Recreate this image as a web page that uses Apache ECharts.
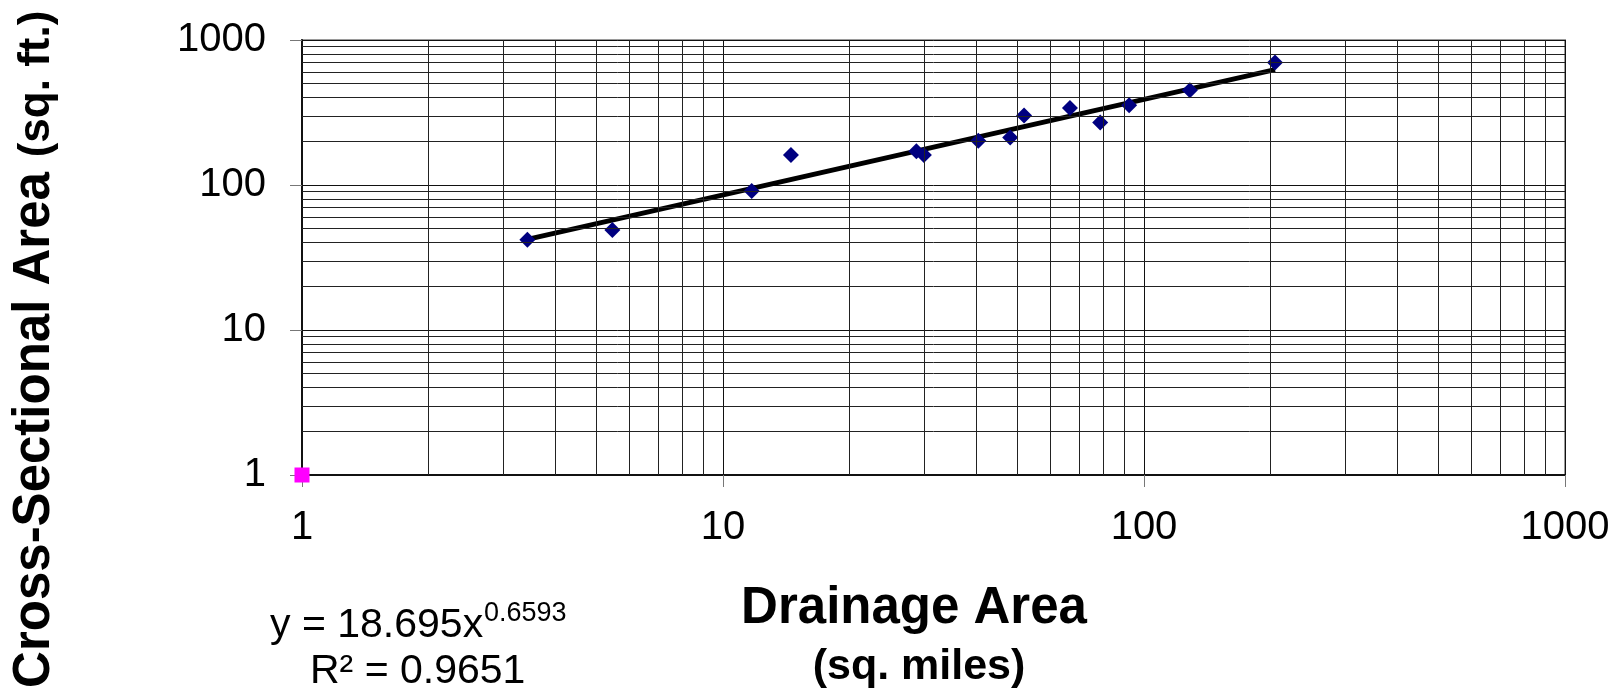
<!DOCTYPE html>
<html>
<head>
<meta charset="utf-8">
<title>Cross-Sectional Area vs Drainage Area</title>
<script src="https://cdn.jsdelivr.net/npm/echarts@6/dist/echarts.min.js"></script>
<style>
  html, body { margin: 0; padding: 0; background: #fff; }
  #chart { width: 1623px; height: 692px; }
</style>
</head>
<body>
<div id="chart"></div>
<script>
// Surveyed reaches: drainage area (sq. miles) and bankfull cross-sectional area (sq. ft.)
const drainageArea = [3.43, 5.46, 11.7, 14.5, 28.8, 30.0, 40.4, 48.1, 51.9, 66.7, 78.7, 92.2, 128.5, 204.7];
const crossSectionArea = [42, 49, 91, 161, 171, 161, 202, 213, 302, 340, 270, 355, 450, 699];

// Anchor point plotted at the axis origin
const originPoint = [1, 1];

// Power-law fit y = a * x^b
const fitCoef = 18.695;
const fitExp = 0.6593;
const fitR2 = 0.9651;

// Log axis decade labels and minor grid positions
const tickLabels = ['1', '10', '100', '1000'];
const minorGrid = [2, 3, 4, 5, 6, 7, 8, 9, 20, 30, 40, 50, 60, 70, 80, 90, 200, 300, 400, 500, 600, 700, 800, 900];

const FONT = "'Liberation Sans', Arial, sans-serif";

const points = drainageArea.map((x, i) => [x, crossSectionArea[i]]);
const xMin = Math.min(...drainageArea);
const xMax = Math.max(...drainageArea);
const fitLine = [xMin, xMax].map(x => [x, fitCoef * Math.pow(x, fitExp)]);

const minorLines = [];
minorGrid.forEach(v => {
  minorLines.push({ xAxis: v });
  minorLines.push({ yAxis: v });
});

const chart = echarts.init(document.getElementById('chart'), null, { renderer: 'canvas' });

const axisLabelFmt = v => {
  const idx = Math.round(Math.log10(v));
  return tickLabels[idx] !== undefined ? tickLabels[idx] : '';
};

chart.setOption({
  animation: false,
  backgroundColor: '#fff',
  grid: {
    left: 302, right: 58, top: 40, bottom: 217,
    show: true, borderColor: '#9a9a9a', borderWidth: 2, backgroundColor: 'transparent'
  },
  xAxis: {
    type: 'log', logBase: 10, min: 1, max: 1000, splitNumber: 3,
    axisLine: { show: true, onZero: false, lineStyle: { color: '#111', width: 2 } },
    axisTick: { show: true, inside: false, length: 12, lineStyle: { color: '#777', width: 1 } },
    axisLabel: { formatter: axisLabelFmt, color: '#000', fontSize: 40, fontFamily: FONT, margin: 33 },
    splitLine: { show: true, lineStyle: { color: '#111', width: 1 } },
    minorTick: { show: false }
  },
  yAxis: {
    type: 'log', logBase: 10, min: 1, max: 1000, splitNumber: 3,
    axisLine: { show: true, onZero: false, lineStyle: { color: '#111', width: 2 } },
    axisTick: { show: true, inside: false, length: 12, lineStyle: { color: '#777', width: 1 } },
    axisLabel: { formatter: axisLabelFmt, color: '#000', fontSize: 40, fontFamily: FONT, margin: 36 },
    splitLine: { show: true, lineStyle: { color: '#111', width: 1 } }
  },
  series: [
    {
      name: 'minor grid',
      type: 'scatter',
      data: [],
      silent: true,
      z: 1,
      markLine: {
        silent: true,
        symbol: ['none', 'none'],
        label: { show: false },
        lineStyle: { color: '#222', width: 1, type: 'solid' },
        emphasis: { disabled: true },
        data: minorLines
      }
    },
    {
      name: 'Power fit',
      type: 'line',
      data: fitLine,
      showSymbol: false,
      symbol: 'none',
      lineStyle: { color: '#000', width: 5 },
      z: 3
    },
    {
      name: 'Surveyed reaches',
      type: 'scatter',
      data: points,
      symbol: 'diamond',
      symbolSize: 16,
      itemStyle: { color: '#000080', opacity: 1 },
      z: 4
    },
    {
      name: 'Origin',
      type: 'scatter',
      data: [originPoint],
      symbol: 'rect',
      symbolSize: 15,
      itemStyle: { color: '#ff00ff', opacity: 1 },
      z: 5
    }
  ],
  graphic: [
    {
      type: 'text', x: 914, y: 609, z: 10,
      style: { text: 'Drainage Area', font: "bold 51px " + FONT, fill: '#000', align: 'center', verticalAlign: 'middle' }
    },
    {
      type: 'text', x: 919, y: 667, z: 10,
      style: { text: '(sq. miles)', font: "bold 43px " + FONT, fill: '#000', align: 'center', verticalAlign: 'middle' }
    },
    {
      type: 'text', x: 35, y: 430, rotation: Math.PI / 2, z: 10,
      style: { text: 'Cross-Sectional Area', font: "bold 51px " + FONT, fill: '#000', align: 'center', verticalAlign: 'middle' }
    },
    {
      type: 'text', x: 37, y: 84, rotation: Math.PI / 2, z: 10,
      style: { text: '(sq. ft.)', font: "bold 44px " + FONT, fill: '#000', align: 'center', verticalAlign: 'middle' }
    },
    {
      type: 'text', x: 270, y: 626, z: 10,
      style: { text: 'y = ' + fitCoef + 'x', font: "41px " + FONT, fill: '#000', align: 'left', verticalAlign: 'middle' }
    },
    {
      type: 'text', x: 484, y: 614, z: 10,
      style: { text: String(fitExp), font: "27px " + FONT, fill: '#000', align: 'left', verticalAlign: 'middle' }
    },
    {
      type: 'text', x: 310, y: 672, z: 10,
      style: { text: 'R² = ' + fitR2, font: "41px " + FONT, fill: '#000', align: 'left', verticalAlign: 'middle' }
    }
  ]
});
</script>
</body>
</html>
